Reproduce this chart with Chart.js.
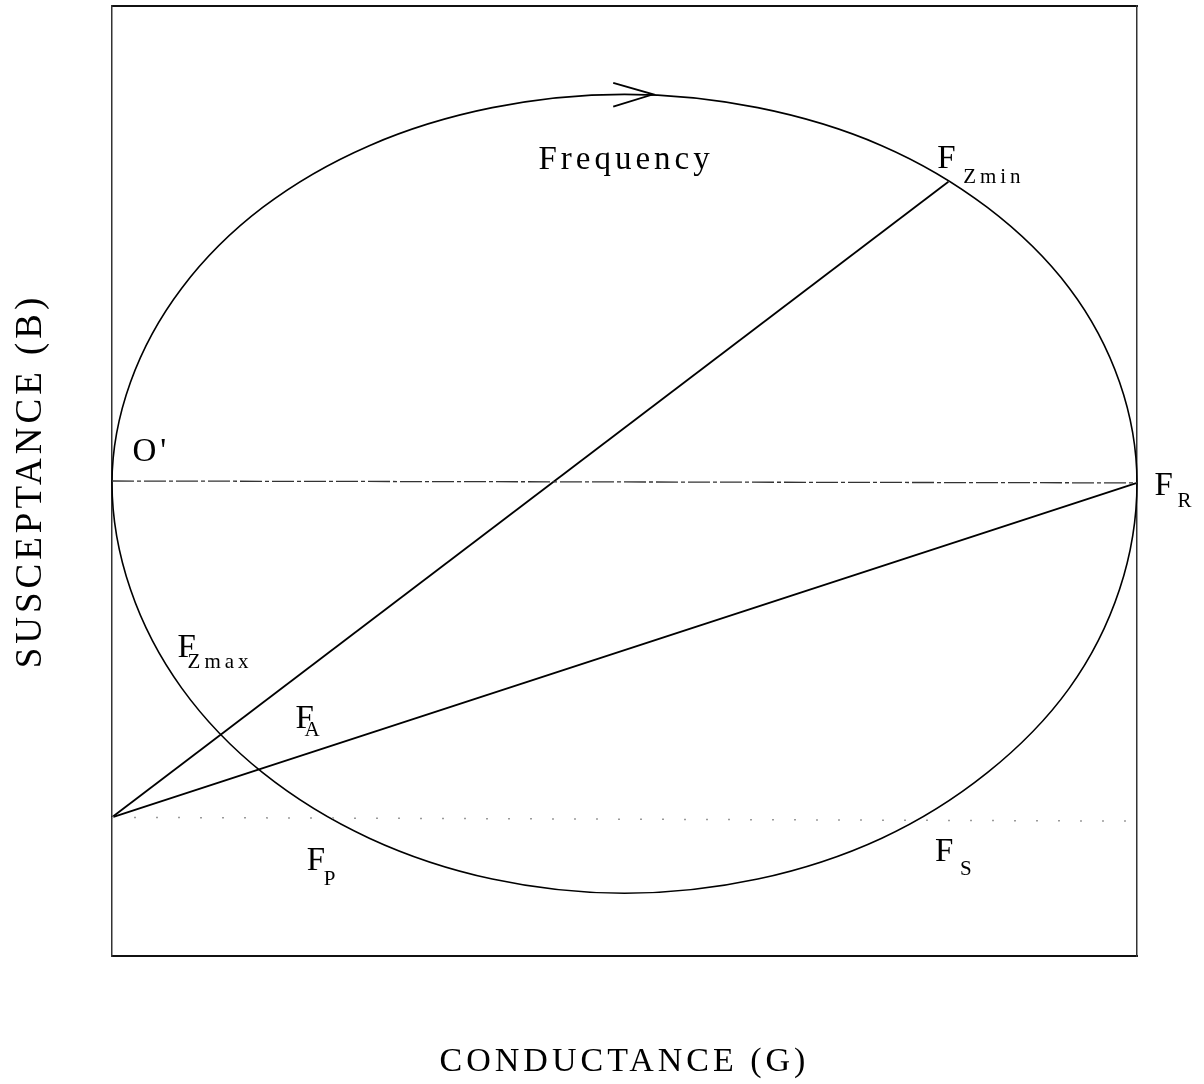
<!DOCTYPE html>
<html>
<head>
<meta charset="utf-8">
<title>Admittance loop</title>
<script src="https://cdn.jsdelivr.net/npm/chart.js@4/dist/chart.umd.min.js"></script>
<style>
  html, body { margin: 0; padding: 0; background: #fff; }
  #wrap { position: relative; width: 1204px; height: 1084px; }
</style>
</head>
<body>
<div id="wrap"><canvas id="loopChart"></canvas></div>
<script>
// Admittance loop of a resonator: susceptance B against conductance G

// Loop traced clockwise (frequency increasing), starting near the top.
// One extra step is repeated at each end so the spline closes smoothly;
// those two guide segments are left undrawn.
const loopG = [3.71, 5.00, 6.30, 7.51, 8.54, 9.34, 9.83, 10.0, 9.83, 9.34, 8.54, 7.51, 6.30, 5.00,
  3.71, 2.51, 1.47, 0.68, 0.18, 0.00, 0.18, 0.68, 1.47, 2.51, 3.71, 5.00, 6.30];
const loopB = [3.93, 4.07, 3.93, 3.53, 2.88, 2.03, 1.04, -0.02, -1.14, -2.18, -3.07, -3.76, -4.19, -4.34,
  -4.19, -3.76, -3.07, -2.18, -1.14, -0.02, 1.04, 2.03, 2.88, 3.53, 3.93, 4.07, 3.93];

// Chords from the offset origin to F_Zmin and F_R
const zminLineG = [0, 8.16];
const zminLineB = [-3.54, 3.15];
const resLineG = [0, 10];
const resLineB = [-3.54, -0.02];

// Reference lines through O' and through the offset origin
const originLineG = [0, 10];
const originLineB = [0.0, -0.02];
const baseLineG = [0, 10];
const baseLineB = [-3.54, -3.58];

// Direction arrow on the top of the loop
const arrowG = [4.89, 5.28, 4.89];
const arrowB = [4.19, 4.07, 3.94];

// Point labels (main letter, subscript, anchor in G/B units)
const labelText = ['Frequency', 'F', "O'", 'F', 'F', 'F', 'F', 'F'];
const labelSub = ['', 'Zmin', '', 'R', 'Zmax', 'A', 'P', 'S'];
const labelG = [4.16, 8.05, 0.20, 10.17, 0.64, 1.79, 1.90, 8.03];
const labelB = [3.28, 3.29, 0.21, -0.15, -1.85, -2.60, -4.09, -4.00];

const FONT = '"Liberation Serif", "DejaVu Serif", serif';

function toPoints(gs, bs) {
    return gs.map((g, i) => ({ x: g, y: bs[i] }));
}

// subscript offsets in px, same order as labelSub
const subOffset = [[0, 0], [26, 15], [0, 0], [23, 12], [10, 11], [9, 8], [17, 15], [25, 14]];

const loopLabels = {
    id: 'loopLabels',
    beforeDraw(chart) {
        // spaced lettering for every text on the chart, titles included
        chart.ctx.letterSpacing = '4px';
    },
    afterDatasetsDraw(chart) {
        const { ctx, scales: { x, y } } = chart;
        ctx.save();
        ctx.fillStyle = '#000';
        ctx.textAlign = 'left';
        ctx.textBaseline = 'alphabetic';
        ctx.letterSpacing = '4px';
        labelText.forEach((txt, i) => {
            const px = x.getPixelForValue(labelG[i]);
            const py = y.getPixelForValue(labelB[i]);
            ctx.font = '33px ' + FONT;
            ctx.fillText(txt, px, py);
            if (labelSub[i]) {
                ctx.font = '21px ' + FONT;
                ctx.fillText(labelSub[i], px + subOffset[i][0], py + subOffset[i][1]);
            }
        });
        ctx.restore();
    }
};

function lineSet(points, color, width, dash) {
    return {
        data: points,
        showLine: true,
        borderColor: color,
        borderWidth: width,
        borderDash: dash || [],
        pointRadius: 0,
        tension: 0,
        clip: false
    };
}

const hiddenTicks = { display: false };
const noGrid = { display: false, drawTicks: false };

const lastLoopIndex = loopG.length - 1;
const loop = lineSet(toPoints(loopG, loopB), '#000', 1.6);
loop.tension = 0.34;
loop.segment = {
    borderColor: ctx => (ctx.p0DataIndex === 0 || ctx.p1DataIndex === lastLoopIndex) ? 'rgba(0,0,0,0)' : undefined
};

new Chart(document.getElementById('loopChart').getContext('2d'), {
    type: 'scatter',
    data: {
        datasets: [
            lineSet(toPoints(baseLineG, baseLineB), '#9a9a9a', 1.5, [2, 20]),
            lineSet(toPoints(originLineG, originLineB), '#333', 1.3, [22, 3, 4, 3]),
            loop,
            lineSet(toPoints(zminLineG, zminLineB), '#000', 1.8),
            lineSet(toPoints(resLineG, resLineB), '#000', 1.8),
            lineSet(toPoints(arrowG, arrowB), '#000', 1.8)
        ]
    },
    options: {
        responsive: true,
        maintainAspectRatio: false,
        animation: false,
        layout: { padding: { top: 6, right: 67, bottom: 0, left: 0 } },
        plugins: {
            legend: { display: false },
            tooltip: { enabled: false }
        },
        scales: {
            x: {
                type: 'linear', position: 'bottom', min: 0, max: 10,
                grid: noGrid, ticks: hiddenTicks,
                border: { color: '#111', width: 2 },
                title: {
                    display: true, text: 'CONDUCTANCE (G)', color: '#000',
                    font: { family: FONT, size: 34, lineHeight: 1.2 },
                    padding: { top: 85.6, bottom: 1.6 }
                }
            },
            xTop: {
                type: 'linear', position: 'top', min: 0, max: 10,
                grid: noGrid, ticks: hiddenTicks,
                border: { color: '#111', width: 2 }
            },
            y: {
                type: 'linear', position: 'left', min: -5, max: 5,
                grid: noGrid, ticks: hiddenTicks,
                border: { color: '#333', width: 1.5, dash: [12, 3, 2, 3] },
                title: {
                    display: true, text: 'SUSCEPTANCE (B)', color: '#000',
                    font: { family: FONT, size: 37, lineHeight: 1.2 },
                    padding: { top: 8.8, bottom: 58.8 }
                }
            },
            yRight: {
                type: 'linear', position: 'right', min: -5, max: 5,
                grid: noGrid, ticks: hiddenTicks,
                border: { color: '#333', width: 1.5, dash: [12, 3, 2, 3] }
            }
        }
    },
    plugins: [loopLabels]
});
</script>
</body>
</html>
